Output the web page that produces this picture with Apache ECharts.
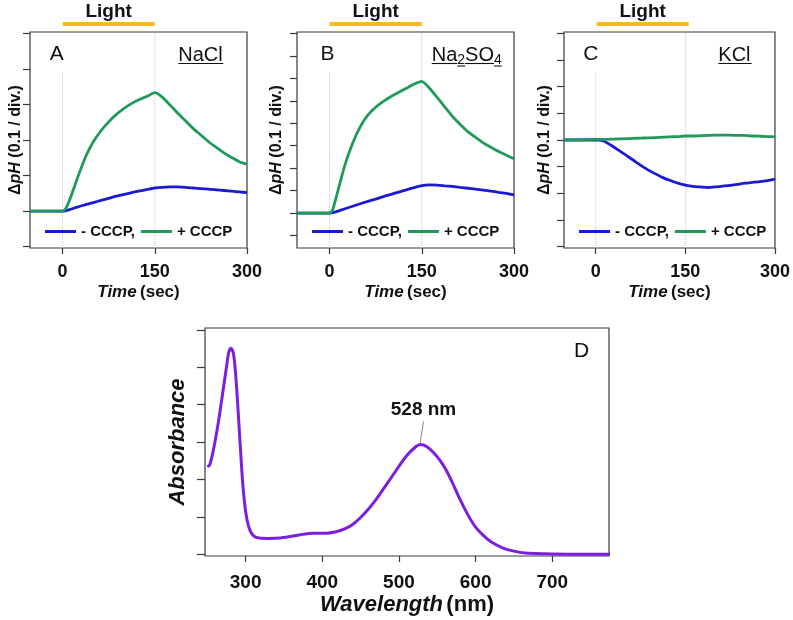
<!DOCTYPE html>
<html>
<head>
<meta charset="utf-8">
<script src="https://cdn.jsdelivr.net/npm/echarts@6/dist/echarts.min.js"></script>
<style>html,body{margin:0;padding:0;background:#fff}#c{width:793px;height:620px}</style>
</head>
<body>
<div id="c"></div>
<script>
// ---------- data (ΔpH in divisions of 0.1; time in sec) ----------
const time = [-53, 0, 5, 12.5, 25, 37.5, 50, 62.5, 75, 87.5, 100, 112.5, 125, 137.5, 150, 162.5, 175, 187.5, 200, 212.5, 225, 237.5, 250, 262.5, 275, 287.5, 300];
const blueA  = [0, 0, 0.01, 0.05, 0.12, 0.18, 0.24, 0.30, 0.36, 0.42, 0.47, 0.52, 0.57, 0.61, 0.65, 0.67, 0.68, 0.68, 0.67, 0.65, 0.63, 0.62, 0.60, 0.58, 0.56, 0.54, 0.52];
const greenA = [0, 0, 0.07, 0.36, 0.97, 1.53, 1.95, 2.26, 2.51, 2.72, 2.89, 3.03, 3.14, 3.23, 3.33, 3.20, 2.98, 2.75, 2.54, 2.32, 2.14, 1.95, 1.79, 1.64, 1.51, 1.39, 1.32];
const blueB  = [0, 0, 0.02, 0.08, 0.20, 0.31, 0.42, 0.53, 0.63, 0.74, 0.84, 0.94, 1.04, 1.14, 1.23, 1.26, 1.25, 1.22, 1.19, 1.15, 1.11, 1.07, 1.03, 0.98, 0.93, 0.88, 0.82];
const greenB = [0, 0, 0.15, 0.89, 2.15, 3.11, 3.85, 4.37, 4.71, 4.97, 5.19, 5.38, 5.56, 5.74, 5.86, 5.56, 5.15, 4.72, 4.30, 3.95, 3.63, 3.37, 3.13, 2.93, 2.74, 2.58, 2.42];
const blueC  = [0, 0, 0, -0.03, -0.19, -0.37, -0.56, -0.75, -0.94, -1.12, -1.27, -1.41, -1.52, -1.62, -1.69, -1.74, -1.76, -1.78, -1.76, -1.73, -1.70, -1.66, -1.62, -1.59, -1.56, -1.52, -1.47];
const greenC = [0, 0.02, 0.02, 0.02, 0.03, 0.04, 0.05, 0.06, 0.07, 0.08, 0.09, 0.11, 0.12, 0.13, 0.15, 0.15, 0.16, 0.17, 0.18, 0.18, 0.18, 0.17, 0.17, 0.15, 0.14, 0.13, 0.12];
const yTicksA = [-1, 0, 1, 2, 3, 4, 5];
const yTicksB = [-1, 0, 1, 2, 3, 4, 5, 6, 7, 8];
const yTicksC = [-4, -3, -2, -1, 0, 1, 2, 3, 4];
const timeTicks = [0, 150, 300];
const lightPeriod = [0, 150];
const seriesNames = ['- CCCP,', '+ CCCP'];
const saltNames = ['NaCl', 'Na2SO4', 'KCl'];
const panelLetters = ['A', 'B', 'C', 'D'];

// absorbance spectrum (arbitrary units)
const wavelength = [250, 253, 256, 260, 265, 270, 275, 278, 281, 284, 287, 290, 293, 296, 299, 302, 306, 311, 318, 330, 345, 358, 371, 388, 405, 418, 430, 440, 450, 460, 470, 480, 490, 500, 510, 520, 528, 536, 545, 553, 561, 570, 580, 590, 600, 610, 620, 635, 650, 665, 690, 720, 775];
const absorbance = [2.34, 2.38, 2.60, 3.00, 3.60, 4.30, 5.00, 5.40, 5.51, 5.38, 4.80, 3.90, 2.90, 1.95, 1.30, 0.90, 0.62, 0.48, 0.43, 0.42, 0.43, 0.47, 0.52, 0.56, 0.56, 0.60, 0.68, 0.80, 0.98, 1.20, 1.46, 1.75, 2.05, 2.35, 2.63, 2.84, 2.93, 2.88, 2.72, 2.52, 2.27, 1.90, 1.45, 1.05, 0.72, 0.50, 0.33, 0.17, 0.08, 0.03, 0.01, 0, 0];
const wlTicks = [300, 400, 500, 600, 700];
const absTicks = [0, 1, 2, 3, 4, 5, 6];
const peakLeader = [[527.7, 2.98], [532, 3.55]];
const peakText = '528 nm';

// ---------- styles / layout ----------
const FONT = 'Liberation Sans, Arial, sans-serif';
const INK = '#111';
const AX = '#3a3a3a';
const BLUE = '#1a1ad6', GREEN = '#1f9a5a', PURPLE = '#7a1ee0', ORANGE = '#f7bb22';

const panels = [
  { left: 30,  ymin: -1.037, ymax: 5.037, ticks: yTicksA, blue: blueA, green: greenA, nameGap: 6 },
  { left: 297, ymin: -1.547, ymax: 8.058, ticks: yTicksB, blue: blueB, green: greenB, nameGap: 12 },
  { left: 564, ymin: -4.049, ymax: 4.049, ticks: yTicksC, blue: blueC, green: greenC, nameGap: 11 }
];
const PW = 217, PT = 32, PH = 216;

const grid = [], xAxis = [], yAxis = [], series = [], legend = [];
const zip = (xs, ys) => xs.map((x, i) => [x, ys[i]]);
const hiddenSym = { symbol: 'circle', symbolSize: 0, showSymbol: true };

panels.forEach((p, i) => {
  grid.push({ left: p.left, top: PT, width: PW, height: PH, show: true, borderColor: AX, borderWidth: 1.2, backgroundColor: 'transparent' });
  xAxis.push({
    type: 'value', gridIndex: i, min: -53, max: 300,
    axisLine: { show: false, onZero: false },
    axisTick: { show: true, customValues: timeTicks, length: 6, lineStyle: { color: AX, width: 1.2 } },
    axisLabel: { customValues: timeTicks, fontSize: 18, fontWeight: 'bold', color: INK, fontFamily: FONT, margin: 15 },
    splitLine: { show: false },
    name: '{i|Time} {b|(sec)}', nameLocation: 'middle', nameGap: 36,
    nameTextStyle: { rich: {
      i: { fontSize: 17, fontWeight: 'bold', fontStyle: 'italic', color: INK, fontFamily: FONT },
      b: { fontSize: 17, fontWeight: 'bold', color: INK, fontFamily: FONT } } }
  });
  yAxis.push({
    type: 'value', gridIndex: i, min: p.ymin, max: p.ymax,
    axisLine: { show: false, onZero: false },
    axisTick: { show: true, customValues: p.ticks, length: 7, lineStyle: { color: AX, width: 1.2 } },
    axisLabel: { show: false }, splitLine: { show: false },
    name: '{b|Δ}{i|pH}{b| (0.1 / div.)}', nameLocation: 'middle', nameRotate: 90, nameGap: p.nameGap,
    nameTextStyle: { rich: {
      i: { fontSize: 16, fontWeight: 'bold', fontStyle: 'italic', color: INK, fontFamily: FONT },
      b: { fontSize: 16, fontWeight: 'bold', color: INK, fontFamily: FONT } } }
  });
  const guideTop = p.ymax - (40 / PH) * (p.ymax - p.ymin);
  const guide = { type: 'line', xAxisIndex: i, yAxisIndex: i, symbol: 'none', silent: true,
    lineStyle: { color: '#c4c4c4', type: 'dotted', width: 1 }, z: 1 };
  series.push(Object.assign({}, guide, { data: [[lightPeriod[0], p.ymin], [lightPeriod[0], guideTop]] }));
  series.push(Object.assign({}, guide, { data: [[lightPeriod[1], p.ymin], [lightPeriod[1], p.ymax]] }));
  series.push({ type: 'line', name: seriesNames[0], xAxisIndex: i, yAxisIndex: i, data: zip(time, p.blue),
    symbol: 'none', smooth: 0.2, color: BLUE, lineStyle: { color: BLUE, width: 2.8 }, z: 3 });
  series.push({ type: 'line', name: seriesNames[1], xAxisIndex: i, yAxisIndex: i, data: zip(time, p.green),
    symbol: 'none', smooth: 0.2, color: GREEN, lineStyle: { color: GREEN, width: 2.8 }, z: 4 });
  legend.push({ data: seriesNames, left: p.left + 15, top: 224, padding: 0, icon: 'rect', itemWidth: 31, itemHeight: 3, itemGap: 6,
    selectedMode: false, textStyle: { fontSize: 15, fontWeight: 'bold', color: INK, fontFamily: FONT } });
});

// panel D
grid.push({ left: 205, top: 328, width: 404, height: 228, show: true, borderColor: AX, borderWidth: 1.2, backgroundColor: 'transparent' });
xAxis.push({
  type: 'value', gridIndex: 3, min: 247, max: 774,
  axisLine: { show: false, onZero: false },
  axisTick: { show: true, customValues: wlTicks, length: 6, lineStyle: { color: AX, width: 1.2 } },
  axisLabel: { customValues: wlTicks, fontSize: 19, fontWeight: 'bold', color: INK, fontFamily: FONT, margin: 17 },
  splitLine: { show: false },
  name: '{i|Wavelength} {b|(nm)}', nameLocation: 'middle', nameGap: 38,
  nameTextStyle: { rich: {
    i: { fontSize: 22, fontWeight: 'bold', fontStyle: 'italic', color: INK, fontFamily: FONT },
    b: { fontSize: 22, fontWeight: 'bold', color: INK, fontFamily: FONT } } }
});
yAxis.push({
  type: 'value', gridIndex: 3, min: -0.05, max: 6.05,
  axisLine: { show: false, onZero: false },
  axisTick: { show: true, customValues: absTicks, length: 8, lineStyle: { color: AX, width: 1.2 } },
  axisLabel: { show: false }, splitLine: { show: false },
  name: 'Absorbance', nameLocation: 'middle', nameRotate: 90, nameGap: 16,
  nameTextStyle: { fontSize: 22, fontWeight: 'bold', fontStyle: 'italic', color: INK, fontFamily: FONT }
});
series.push({ type: 'line', xAxisIndex: 3, yAxisIndex: 3, data: zip(wavelength, absorbance), symbol: 'none', smooth: 0.3,
  lineStyle: { color: PURPLE, width: 3 }, z: 3 });
series.push(Object.assign({ type: 'line', xAxisIndex: 3, yAxisIndex: 3, silent: true, clip: false,
  lineStyle: { color: '#666', width: 0.8 },
  data: [peakLeader[0], { value: peakLeader[1], label: { show: true, formatter: peakText, position: 'top', distance: 2,
    fontSize: 19, fontWeight: 'bold', color: INK, fontFamily: FONT } }], z: 2 }, hiddenSym));

// light bars (hidden strip grids above panels)
panels.forEach((p, i) => {
  const gi = 4 + i;
  grid.push({ left: p.left, top: 18, width: PW, height: 12, show: false });
  xAxis.push({ type: 'value', gridIndex: gi, min: -53, max: 300, show: false });
  yAxis.push({ type: 'value', gridIndex: gi, min: 0, max: 1, show: false });
  const mid = (lightPeriod[0] + lightPeriod[1]) / 2;
  series.push(Object.assign({ type: 'line', xAxisIndex: gi, yAxisIndex: gi, silent: true, clip: false,
    lineStyle: { color: ORANGE, width: 4 },
    data: [[lightPeriod[0], 0.5], { value: [mid, 0.5], label: { show: true, formatter: 'Light', position: 'top', distance: 3,
      fontSize: 19, fontWeight: 'bold', color: INK, fontFamily: FONT } }, [lightPeriod[1], 0.5]] }, hiddenSym));
});

// panel letters and salt labels
const txt = (t, x, y, extra) => ({ type: 'text', z: 10, style: Object.assign({ text: t, x: x, y: y, fill: INK, fontSize: 21,
  fontFamily: FONT, textAlign: 'center', textVerticalAlign: 'middle', align: 'center', verticalAlign: 'middle' }, extra || {}) });
const uline = (x1, x2, y) => ({ type: 'line', z: 10, shape: { x1: x1, y1: y, x2: x2, y2: y }, style: { stroke: INK, lineWidth: 1.1 } });
const graphic = [
  txt(panelLetters[0], 56.7, 54), txt(panelLetters[1], 327.5, 54), txt(panelLetters[2], 590.8, 54), txt(panelLetters[3], 581.7, 351),
  txt(saltNames[0], 178.3, 55, { textAlign: 'left', align: 'left', fontSize: 20 }),
  txt('{n|Na}{s|2}{n|SO}{s|4}', 431.7, 55, { textAlign: 'left', align: 'left', rich: {
    n: { fontSize: 20, fontFamily: FONT, fill: INK, color: INK },
    s: { fontSize: 14, fontFamily: FONT, fill: INK, color: INK, padding: [11, 0, 0, 0] } } }),
  txt(saltNames[2], 718.3, 55, { textAlign: 'left', align: 'left', fontSize: 20 }),
  uline(178.3, 223.3, 63.5),
  uline(431.7, 457.3, 63.5), uline(457.3, 465.1, 66), uline(465.1, 494, 63.5), uline(494, 501.8, 66),
  uline(718.3, 751.7, 63.5)
];

const chart = echarts.init(document.getElementById('c'), null, { renderer: 'canvas' });
chart.setOption({ animation: false, backgroundColor: '#fff', grid, xAxis, yAxis, series, legend, graphic });
</script>
</body>
</html>
